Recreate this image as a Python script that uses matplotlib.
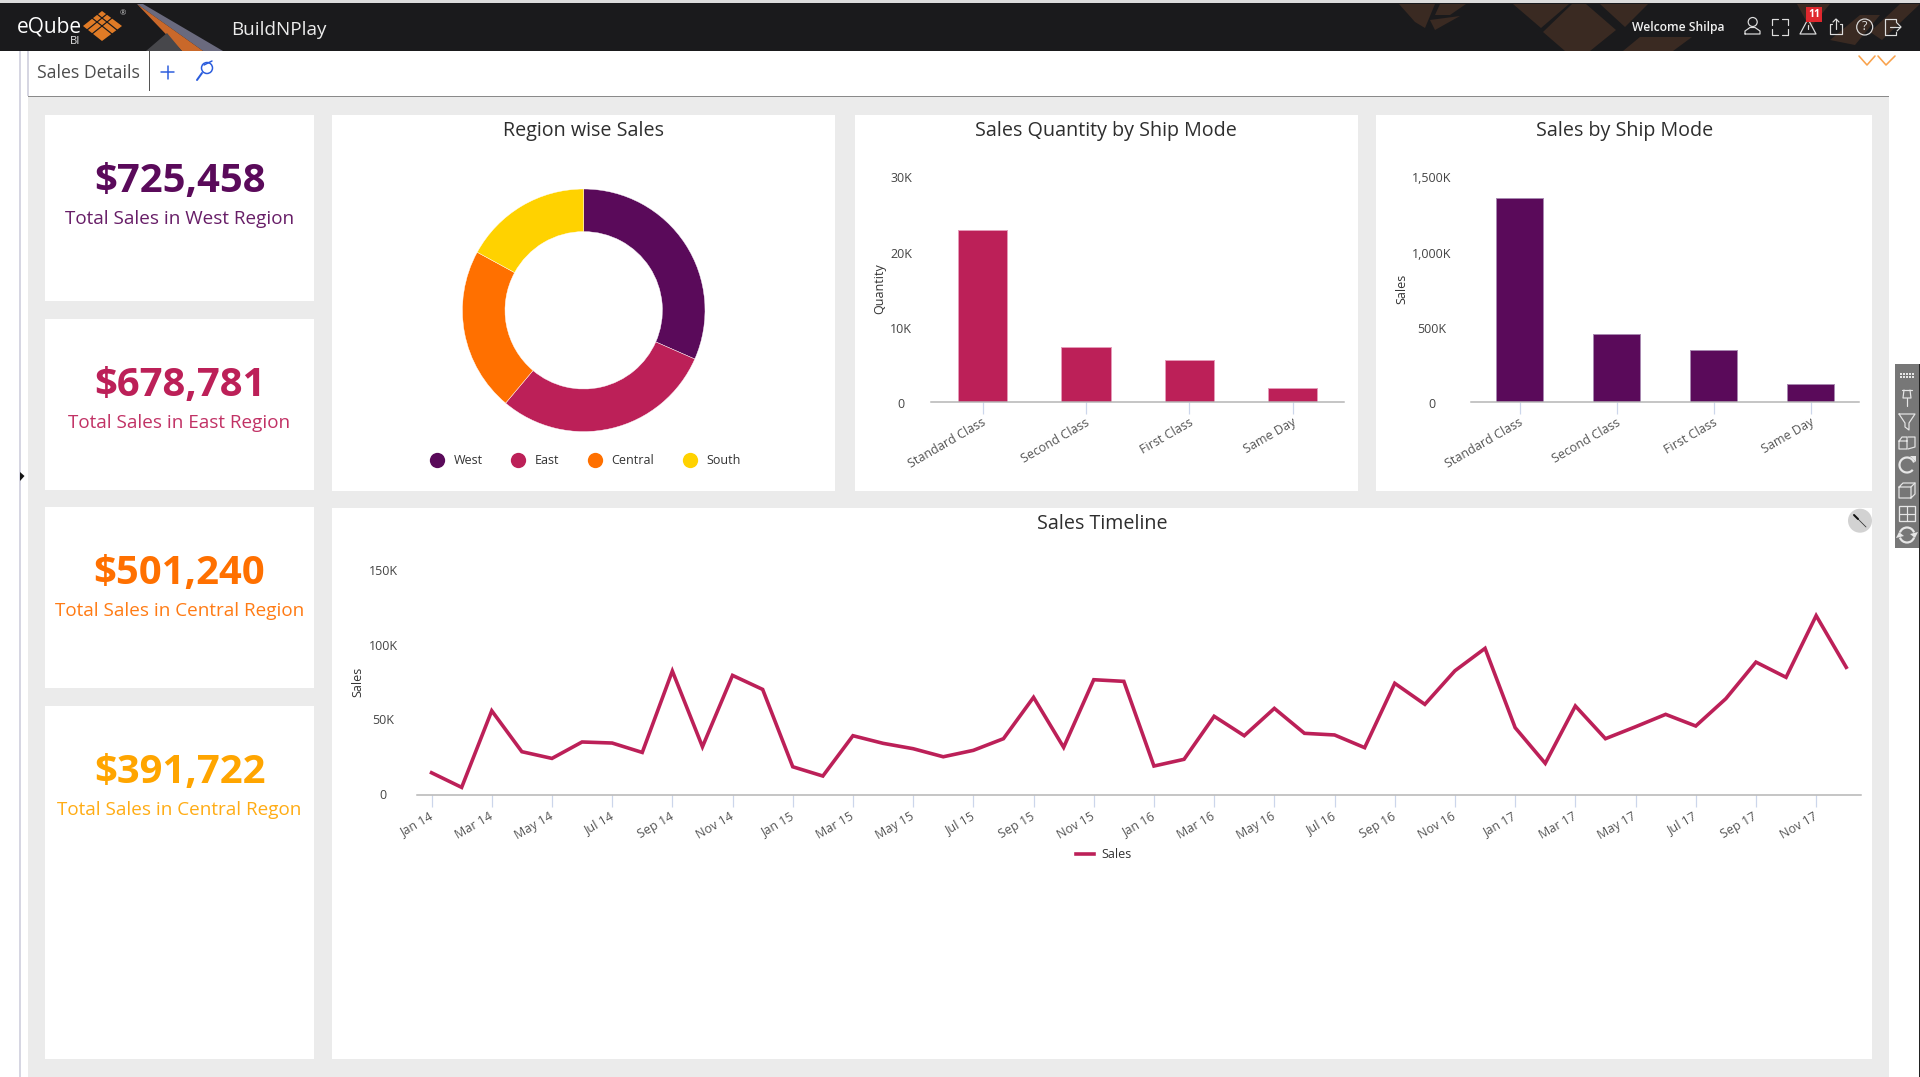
import matplotlib
matplotlib.use("Agg")
import matplotlib.pyplot as plt
from matplotlib.patches import Rectangle, Polygon, Circle
from matplotlib.lines import Line2D
from matplotlib.transforms import ScaledTranslation

plt.rcParams['font.family'] = ['Open Sans', 'DejaVu Sans']

# ---------- data ----------
regions = ['West', 'East', 'Central', 'South']
region_sales = [725458, 678781, 501240, 391722]

kpi_values = ['$725,458', '$678,781', '$501,240', '$391,722']
kpi_labels = ['Total Sales in West Region', 'Total Sales in East Region',
              'Total Sales in Central Region', 'Total Sales in Central Regon']

ship_modes = ['Standard Class', 'Second Class', 'First Class', 'Same Day']
ship_quantity = [22840, 7380, 5560, 1870]
ship_sales = [1358000, 451000, 344000, 118000]

months = ['Jan 14', 'Feb 14', 'Mar 14', 'Apr 14', 'May 14', 'Jun 14', 'Jul 14', 'Aug 14',
          'Sep 14', 'Oct 14', 'Nov 14', 'Dec 14', 'Jan 15', 'Feb 15', 'Mar 15', 'Apr 15',
          'May 15', 'Jun 15', 'Jul 15', 'Aug 15', 'Sep 15', 'Oct 15', 'Nov 15', 'Dec 15',
          'Jan 16', 'Feb 16', 'Mar 16', 'Apr 16', 'May 16', 'Jun 16', 'Jul 16', 'Aug 16',
          'Sep 16', 'Oct 16', 'Nov 16', 'Dec 16', 'Jan 17', 'Feb 17', 'Mar 17', 'Apr 17',
          'May 17', 'Jun 17', 'Jul 17', 'Aug 17', 'Sep 17', 'Oct 17', 'Nov 17', 'Dec 17']
monthly_sales = [14700, 4900, 56200, 28800, 24300, 35300, 34600, 28300,
                 82800, 32100, 79900, 70500, 18700, 12500, 39500, 34400,
                 30800, 25400, 29700, 37500, 65200, 31700, 77000, 75900,
                 19200, 23700, 52500, 39500, 57800, 41100, 40000, 31500,
                 74600, 60500, 83000, 98000, 44900, 21000, 59400, 37500,
                 45500, 53800, 46000, 64300, 88800, 78600, 119900, 85300]

# ---------- styles ----------
PURPLE, CRIMSON, ORANGE, YELLOW, AMBER = '#5a0a5a', '#bc2058', '#ff7000', '#ffd200', '#ffa500'
W, H = 1920, 1077
DPI = 100
PX = 72 / DPI

fig = plt.figure(figsize=(W / DPI, H / DPI), dpi=DPI, facecolor='white')
ui = fig.add_axes([0, 0, 1, 1], zorder=0)
ui.set_xlim(0, W)
ui.set_ylim(H, 0)
ui.axis('off')


def rect(x0, y0, x1, y1, color, z=1):
    ui.add_patch(Rectangle((x0, y0), x1 - x0, y1 - y0, fc=color, ec='none', zorder=z))


def poly(pts, color, z=2):
    ui.add_patch(Polygon(pts, closed=True, fc=color, ec='none', zorder=z))


def line(pts, color='#dddddd', lw=1.2, z=4):
    ui.add_line(Line2D([p[0] for p in pts], [p[1] for p in pts], color=color,
                       lw=lw * PX, zorder=z, solid_capstyle='round'))


def circ(x, y, r, fc='none', ec='#dddddd', lw=1.2, z=4):
    ui.add_patch(Circle((x, y), r, fc=fc, ec=ec, lw=lw * PX, zorder=z))


def px_axes(left, top, right, bottom, **kw):
    return fig.add_axes([left / W, 1 - bottom / H, (right - left) / W, (bottom - top) / H],
                        zorder=2, facecolor='none', **kw)


# ---------- page chrome ----------
rect(0, 0, W, 3, '#dcdcdc')
rect(0, 3, W, 51, '#1a1a1c')
rect(19, 51, 21, H, '#d6d6e2')
rect(27, 51, 29, 96, '#d6d6e2')
rect(28, 96, 1889, H, '#ebebeb')
rect(28, 95.6, 1889, 97, '#8a8a8a', 3)
rect(1918.6, 364, W, H, '#222222')
poly([(20, 472), (24.5, 476), (20, 481)], '#141414')

# header pattern
brown = '#3a2a22'
for shape in [[(1572, 4), (1586, 4), (1616, 30), (1590, 51), (1565, 51), (1543, 32)],
              [(1513, 4), (1569, 4), (1541, 28)],
              [(1623, 51), (1640, 37), (1692, 37), (1673, 51)],
              [(1600, 4), (1648, 4), (1625, 27)],
              [(1399, 4), (1435, 4), (1425, 28), (1415, 22)],
              [(1440, 4), (1466, 4), (1450, 15), (1435, 15)],
              [(1430, 20), (1460, 16), (1435, 30)],
              [(1797, 4), (1830, 4), (1810, 28)],
              [(1830, 40), (1860, 15), (1880, 15), (1855, 45)],
              [(1870, 32), (1900, 4), (1920, 4), (1882, 40)]]:
    poly(shape, brown)

# logo
poly([(137, 4), (143, 4), (223, 51), (203, 51)], '#6a6a7e')
poly([(137, 4), (203, 51), (182, 51)], '#c9682a')
poly([(167, 33), (182, 51), (146, 51)], '#47474b')
poly([(102, 11), (122, 26), (102, 41), (83, 26)], '#e07b26')
for seg in [[(92, 18), (112, 34)], [(97, 14), (117, 30)], [(112, 18), (92, 34)], [(107, 14), (87, 30)]]:
    line(seg, '#1a1a1c', 1.2)
ui.text(17, 33, 'eQube', color='white', fontsize=15, va='baseline', zorder=5)
ui.text(70, 44, 'BI', color='#e8e8e8', fontsize=8, va='baseline', zorder=5)
ui.text(120, 14, '®', color='#cccccc', fontsize=5.5, va='center', zorder=5)
ui.text(231, 35, 'BuildNPlay', color='#ececec', fontsize=13.6, va='baseline', zorder=5)
ui.text(1632, 31, 'Welcome Shilpa', color='#f0f0f0', fontsize=8.7, va='baseline', zorder=5,
        fontweight='semibold')

# header icons
circ(1752.7, 22, 4.5)
line([(1745, 34), (1745, 31), (1750, 27.5), (1755, 27.5), (1760, 31), (1760, 34), (1745, 34)])
for (a, b, c) in [((1772, 25), (1772, 19), (1778, 19)), ((1782, 19), (1788, 19), (1788, 25)),
                  ((1772, 29), (1772, 35), (1778, 35)), ((1782, 35), (1788, 35), (1788, 29))]:
    line([a, b, c])
line([(1808, 19), (1800, 34), (1816, 34), (1808, 19)])
line([(1808, 25), (1808, 29)])
rect(1806, 7, 1822, 22, '#e0282e', 5)
ui.text(1814, 14.5, '11', color='white', fontsize=7.5, fontweight='bold', ha='center', va='center', zorder=6)
line([(1832, 24), (1830, 24), (1830, 34), (1842, 34), (1842, 24), (1840, 24)])
line([(1836, 29), (1836, 19)])
line([(1833, 22), (1836, 19), (1839, 22)])
circ(1864.7, 27, 8)
ui.text(1864.7, 27, '?', color='#dddddd', fontsize=9, ha='center', va='center', zorder=5)
line([(1896, 22), (1896, 19), (1885, 19), (1885, 35), (1896, 35), (1896, 32)])
line([(1890, 27), (1900, 27)])
line([(1897, 23), (1901, 27), (1897, 31)])

# tab bar
ui.text(37, 73, 'Sales Details', color='#4d4d4d', fontsize=12.7, va='center', zorder=5)
rect(149.2, 51, 150.2, 91, '#555555')
line([(161, 72), (174, 72)], '#2a5cdd', 1.5)
line([(167.5, 66), (167.5, 79)], '#2a5cdd', 1.5)
circ(207, 68, 5.5, ec='#2a5cdd', lw=1.5)
line([(202, 73), (197, 80)], '#2a5cdd', 2)
line([(204, 65), (212, 61)], '#2a5cdd', 1.5)
line([(1859, 56), (1867, 65), (1875, 56)], '#f9a24c', 1.6)
line([(1878, 56), (1886, 65), (1895, 56)], '#f9a24c', 1.6)

# right toolbar
rect(1895, 364, 1919, 548, '#777777')
c = '#e6e6e6'
for i in range(5):
    rect(1900 + 3 * i, 373, 1901.6 + 3 * i, 374.6, c, 4)
    rect(1900 + 3 * i, 376, 1901.6 + 3 * i, 377.6, c, 4)
line([(1902, 390), (1912, 390)], c)
line([(1904, 390), (1903, 398), (1911, 398), (1910, 390)], c)
line([(1907, 398), (1907, 406)], c)
line([(1899, 414), (1915, 414), (1909, 423), (1909, 430), (1905, 427), (1905, 423), (1899, 414)], c)
line([(1899, 441), (1902, 437), (1907, 437), (1907, 449), (1899, 449), (1899, 441), (1907, 441)], c)
line([(1908, 437), (1915, 437), (1915, 447), (1908, 449)], c)
ui.add_patch(matplotlib.patches.Arc((1907, 465), 15, 15, theta1=40, theta2=340, ec=c, lw=2.2 * PX, zorder=4))
poly([(1910, 456), (1916, 456), (1916, 462)], c, 4)
line([(1899, 487), (1903, 483), (1915, 483), (1915, 494), (1911, 498), (1899, 498), (1899, 487), (1911, 487), (1911, 498)], c)
line([(1911, 487), (1915, 483)], c)
ui.add_patch(Rectangle((1899, 506), 16, 15, fc='none', ec=c, lw=1.3 * PX, zorder=4))
line([(1907, 506), (1907, 521)], c)
line([(1899, 513.5), (1915, 513.5)], c)
ui.add_patch(matplotlib.patches.Arc((1907, 535), 15, 15, theta1=200, theta2=340, ec=c, lw=2.2 * PX, zorder=4))
ui.add_patch(matplotlib.patches.Arc((1907, 535), 15, 15, theta1=20, theta2=160, ec=c, lw=2.2 * PX, zorder=4))
poly([(1899, 532), (1904, 536), (1896, 538)], c, 4)
poly([(1915, 538), (1910, 534), (1918, 532)], c, 4)

# ---------- panels ----------
cards = [(45, 115, 314, 301), (45, 319, 314, 490), (45, 507, 314, 688), (45, 706, 314, 1059)]
panels = [(332, 115, 835, 491), (854.5, 115, 1358, 491), (1376, 115, 1872, 491), (332, 508, 1872, 1059)]
for p in cards + panels:
    rect(p[0], p[1], p[2], p[3], 'white', 2)

kpi_colors = [PURPLE, CRIMSON, ORANGE, AMBER]
kpi_base = [191.7, 395.7, 584, 783]
sub_base = [224, 428, 615.7, 815]
for val, lab, col, yb, ys in zip(kpi_values, kpi_labels, kpi_colors, kpi_base, sub_base):
    ui.text(179.5, yb, val, color=col, fontsize=28.8, fontweight='bold', ha='center', va='baseline', zorder=5)
    ui.text(179.5, ys, lab, color=col, fontsize=13.55, ha='center', va='baseline', zorder=5, alpha=0.92)

for text, x, y in [('Region wise Sales', 583.7, 131), ('Sales Quantity by Ship Mode', 1105.5, 131),
                   ('Sales by Ship Mode', 1624.5, 131), ('Sales Timeline', 1102.5, 524)]:
    ui.text(x, y, text, color='#2e2e2e', fontsize=14.2, ha='center', va='center', zorder=5)

TICK_C, AXIS_C, TXT_C = '#ccd6eb', '#b4b4b4', '#555555'
FS = 9


def style_axis(ax, ylabels, pad_px, ylabel, ylabel_x, ylabel_y, dy_px, xlab_dx=0, xlab_pad=6.4):
    for s in ['top', 'left', 'right']:
        ax.spines[s].set_visible(False)
    ax.spines['bottom'].set_color(AXIS_C)
    ax.spines['bottom'].set_linewidth(1.5 * PX)
    ax.tick_params(axis='x', length=12 * PX, width=1.2 * PX, color=TICK_C, pad=xlab_pad,
                   labelsize=FS, labelcolor=TXT_C)
    ax.tick_params(axis='y', length=0, pad=pad_px * PX, labelsize=FS, labelcolor='#444444')
    ax.set_yticklabels(ylabels)
    off = ScaledTranslation(0, -dy_px * PX / 72, fig.dpi_scale_trans)
    for t in ax.get_yticklabels():
        t.set_ha('center')
        t.set_transform(t.get_transform() + off)
    xoff = ScaledTranslation(xlab_dx * PX / 72, 0, fig.dpi_scale_trans)
    for t in ax.get_xticklabels():
        t.set(rotation=30, ha='right', va='center', rotation_mode='anchor')
        t.set_transform(t.get_transform() + xoff)
    ui.text(ylabel_x, ylabel_y, ylabel, rotation=90, color='#333333', fontsize=FS,
            ha='center', va='center', zorder=5)


# donut
R = 121.3
cx, cy = 583.7, 310.3
ax_d = px_axes(cx - R, cy - R, cx + R, cy + R)
ax_d.pie(region_sales, colors=[PURPLE, CRIMSON, ORANGE, YELLOW], startangle=90, counterclock=False,
         radius=1, wedgeprops=dict(width=(121.3 - 78.7) / 121.3, edgecolor='white', linewidth=0.3))
ax_d.set_xlim(-1, 1)
ax_d.set_ylim(-1, 1)
handles = [Line2D([], [], ls='none', marker='o', ms=15.3 * PX, mfc=col, mec='none', label=r)
           for r, col in zip(regions, [PURPLE, CRIMSON, ORANGE, YELLOW])]
fig.legend(handles=handles, loc='center', bbox_to_anchor=(585 / W, 1 - 460.5 / H), ncol=4, frameon=False,
           fontsize=FS, labelcolor='#333333', handlelength=1.22, handletextpad=0.7, columnspacing=2.25,
           borderpad=0, borderaxespad=0)

# quantity bars
ax_q = px_axes(931, 176.5, 1344.3, 402)
ax_q.bar(range(4), ship_quantity, width=0.48, color=CRIMSON, edgecolor='#e49ab8', linewidth=1 * PX)
ax_q.set_xlim(-0.5, 3.5)
ax_q.set_ylim(0, 30000)
ax_q.set_xticks(range(4), ship_modes)
ax_q.set_yticks([0, 10000, 20000, 30000])
style_axis(ax_q, ['0', '10K', '20K', '30K'], 30, 'Quantity', 880, 289, 1.0, 2.5, 5.4)

# sales bars
ax_s = px_axes(1471, 176.5, 1859.3, 402)
ax_s.bar(range(4), ship_sales, width=0.488, color=PURPLE, edgecolor='#a888b0', linewidth=1 * PX)
ax_s.set_xlim(-0.5, 3.5)
ax_s.set_ylim(0, 1500000)
ax_s.set_xticks(range(4), ship_modes)
ax_s.set_yticks([0, 500000, 1000000, 1500000])
style_axis(ax_s, ['0', '500K', '1,000K', '1,500K'], 39, 'Sales', 1401.7, 289, 1.0, 2.5, 5.4)

# timeline
ax_t = px_axes(416.5, 570.7, 1861.3, 794.7)
xs = list(range(len(months)))
ax_t.plot(xs, monthly_sales, color=CRIMSON, lw=3.6 * PX, solid_joinstyle='miter', label='Sales', clip_on=False)
ax_t.set_xlim(-0.5, 47.5)
ax_t.set_ylim(0, 150000)
ax_t.set_xticks(xs[::2], months[::2])
ax_t.set_yticks([0, 50000, 100000, 150000])
style_axis(ax_t, ['0', '50K', '100K', '150K'], 33.5, 'Sales', 358, 681.7, -0.7)
fig.legend(handles=ax_t.get_lines(), loc='center', bbox_to_anchor=(1103.5 / W, 1 - 855 / H), frameon=False,
           fontsize=FS, labelcolor='#333333', handlelength=1.5, handletextpad=0.55, borderpad=0, borderaxespad=0)

# wand button
circ(1860, 520.7, 12, fc='#d2d2d2', ec='none', z=5)
line([(1858, 519), (1866, 527)], '#333333', 0.8, 6)
line([(1854, 515), (1858, 519)], '#111111', 2, 6)

fig.savefig('out.png', dpi=DPI, facecolor='white')
